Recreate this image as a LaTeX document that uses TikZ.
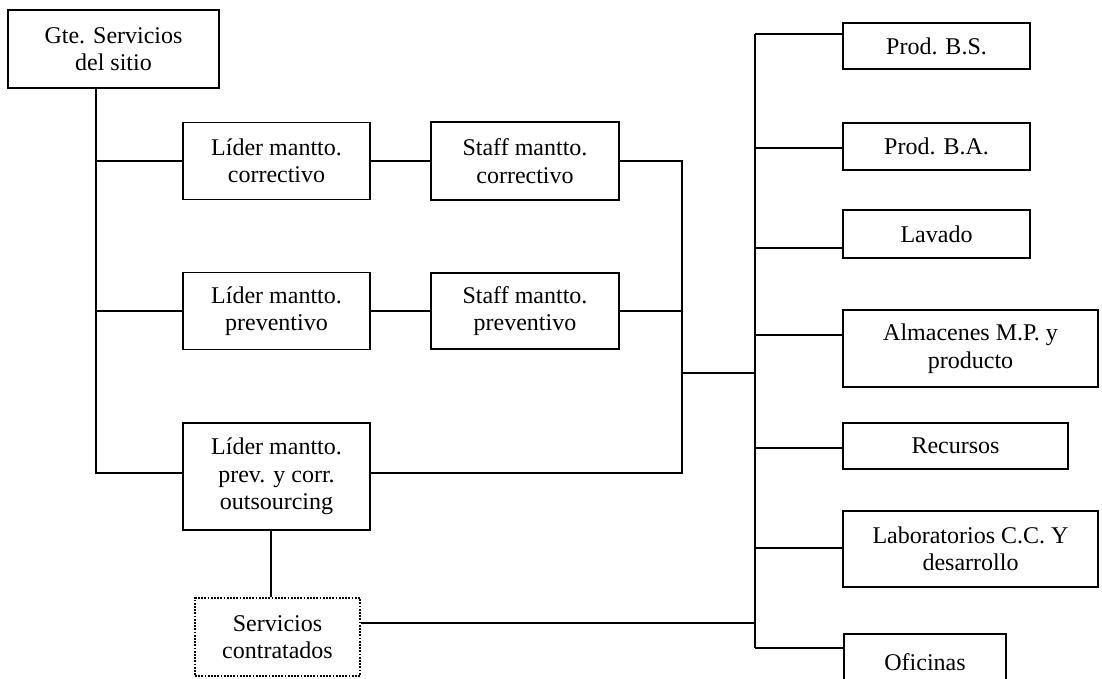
\documentclass[tikz,border=0pt]{standalone}
\usepackage{fontspec}
\setmainfont{Liberation Serif}
\begin{document}
\begin{tikzpicture}[x=1pt,y=-1pt,
  font=\fontsize{24}{27.5}\selectfont,
  box/.style={draw, line width=1.8pt, align=center, inner sep=0pt},
  dotbox/.style={box, line width=1.6pt, dash pattern=on 1.8pt off 1.4pt},
  link/.style={line width=1.8pt}]
\clip (0,0) rectangle (1102,678);

% left column
\node[box, minimum width=211pt, minimum height=78pt] (gte) at (113.5,49) {Gte. Servicios\\del sitio};
\node[box, minimum width=187pt, minimum height=77pt] (lc) at (276.5,161) {Líder mantto.\\correctivo};
\node[box, minimum width=187pt, minimum height=77pt] (lp) at (276.5,311) {Líder mantto.\\preventivo};
\node[box, minimum width=187pt, minimum height=107pt] (lo) at (276.5,476.5) {Líder mantto.\\prev. y corr.\\outsourcing};
\node[dotbox, minimum width=165pt, minimum height=78pt] (sv) at (277.5,637) {Servicios\\contratados};

% staff column
\node[box, minimum width=188pt, minimum height=78pt] (sc) at (525,161) {Staff mantto.\\correctivo};
\node[box, minimum width=188pt, minimum height=76pt] (sp) at (525,311) {Staff mantto.\\preventivo};

% areas served
\node[box, minimum width=187pt, minimum height=46pt] (bs) at (936.5,46) {Prod. B.S.};
\node[box, minimum width=187pt, minimum height=47pt] (ba) at (936.5,146.5) {Prod. B.A.};
\node[box, minimum width=187pt, minimum height=48pt] (lv) at (936.5,234) {Lavado};
\node[box, minimum width=255pt, minimum height=77pt] (al) at (970.5,348.5) {Almacenes M.P. y\\producto};
\node[box, minimum width=225pt, minimum height=46pt] (re) at (955.5,446) {Recursos};
\node[box, minimum width=255pt, minimum height=76pt] (la) at (970.5,549) {Laboratorios C.C. Y\\desarrollo};
\node[box, minimum width=162pt, minimum height=56pt] (of) at (925,662) {Oficinas};

% bus points
\coordinate (tl) at (96,473);
\coordinate (bm) at (682,373);
\coordinate (tr) at (755,34);
\coordinate (trb) at (755,648);
\coordinate (drop) at (271,0);

% left trunk
\draw[link] (gte.south -| tl) -- (tl) -- (lo.west |- tl);
\draw[link] (tl |- lc.west) -- (lc.west);
\draw[link] (tl |- lp.west) -- (lp.west);

% leaders to staff
\draw[link] (lc.east) -- (sc.west |- lc.east);
\draw[link] (lp.east) -- (sp.west |- lp.east);

% middle bus
\draw[link] (sc.east) -| (bm |- tl) -- (lo.east |- tl);
\draw[link] (sp.east) -- (sp.east -| bm);
\draw[link] (bm) -- (bm -| tr);

% outsourcing to contracted services
\draw[link] (lo.south -| drop) -- (sv.north -| drop);
\draw[link] ([yshift=14pt]sv.east) -- ([yshift=14pt]sv.east -| tr);

% right trunk and branches
\draw[link] (tr) -- (trb);
\draw[link] (tr) -- (tr -| bs.west);
\draw[link] ([yshift=-1.5pt]ba.west) -- ([yshift=-1.5pt]ba.west -| tr);
\draw[link] ([yshift=-14pt]lv.west) -- ([yshift=-14pt]lv.west -| tr);
\draw[link] ([yshift=13.5pt]al.west) -- ([yshift=13.5pt]al.west -| tr);
\draw[link] ([yshift=-2pt]re.west) -- ([yshift=-2pt]re.west -| tr);
\draw[link] ([yshift=1pt]la.west) -- ([yshift=1pt]la.west -| tr);
\draw[link] (trb) -- (trb -| of.west);
\end{tikzpicture}
\end{document}
